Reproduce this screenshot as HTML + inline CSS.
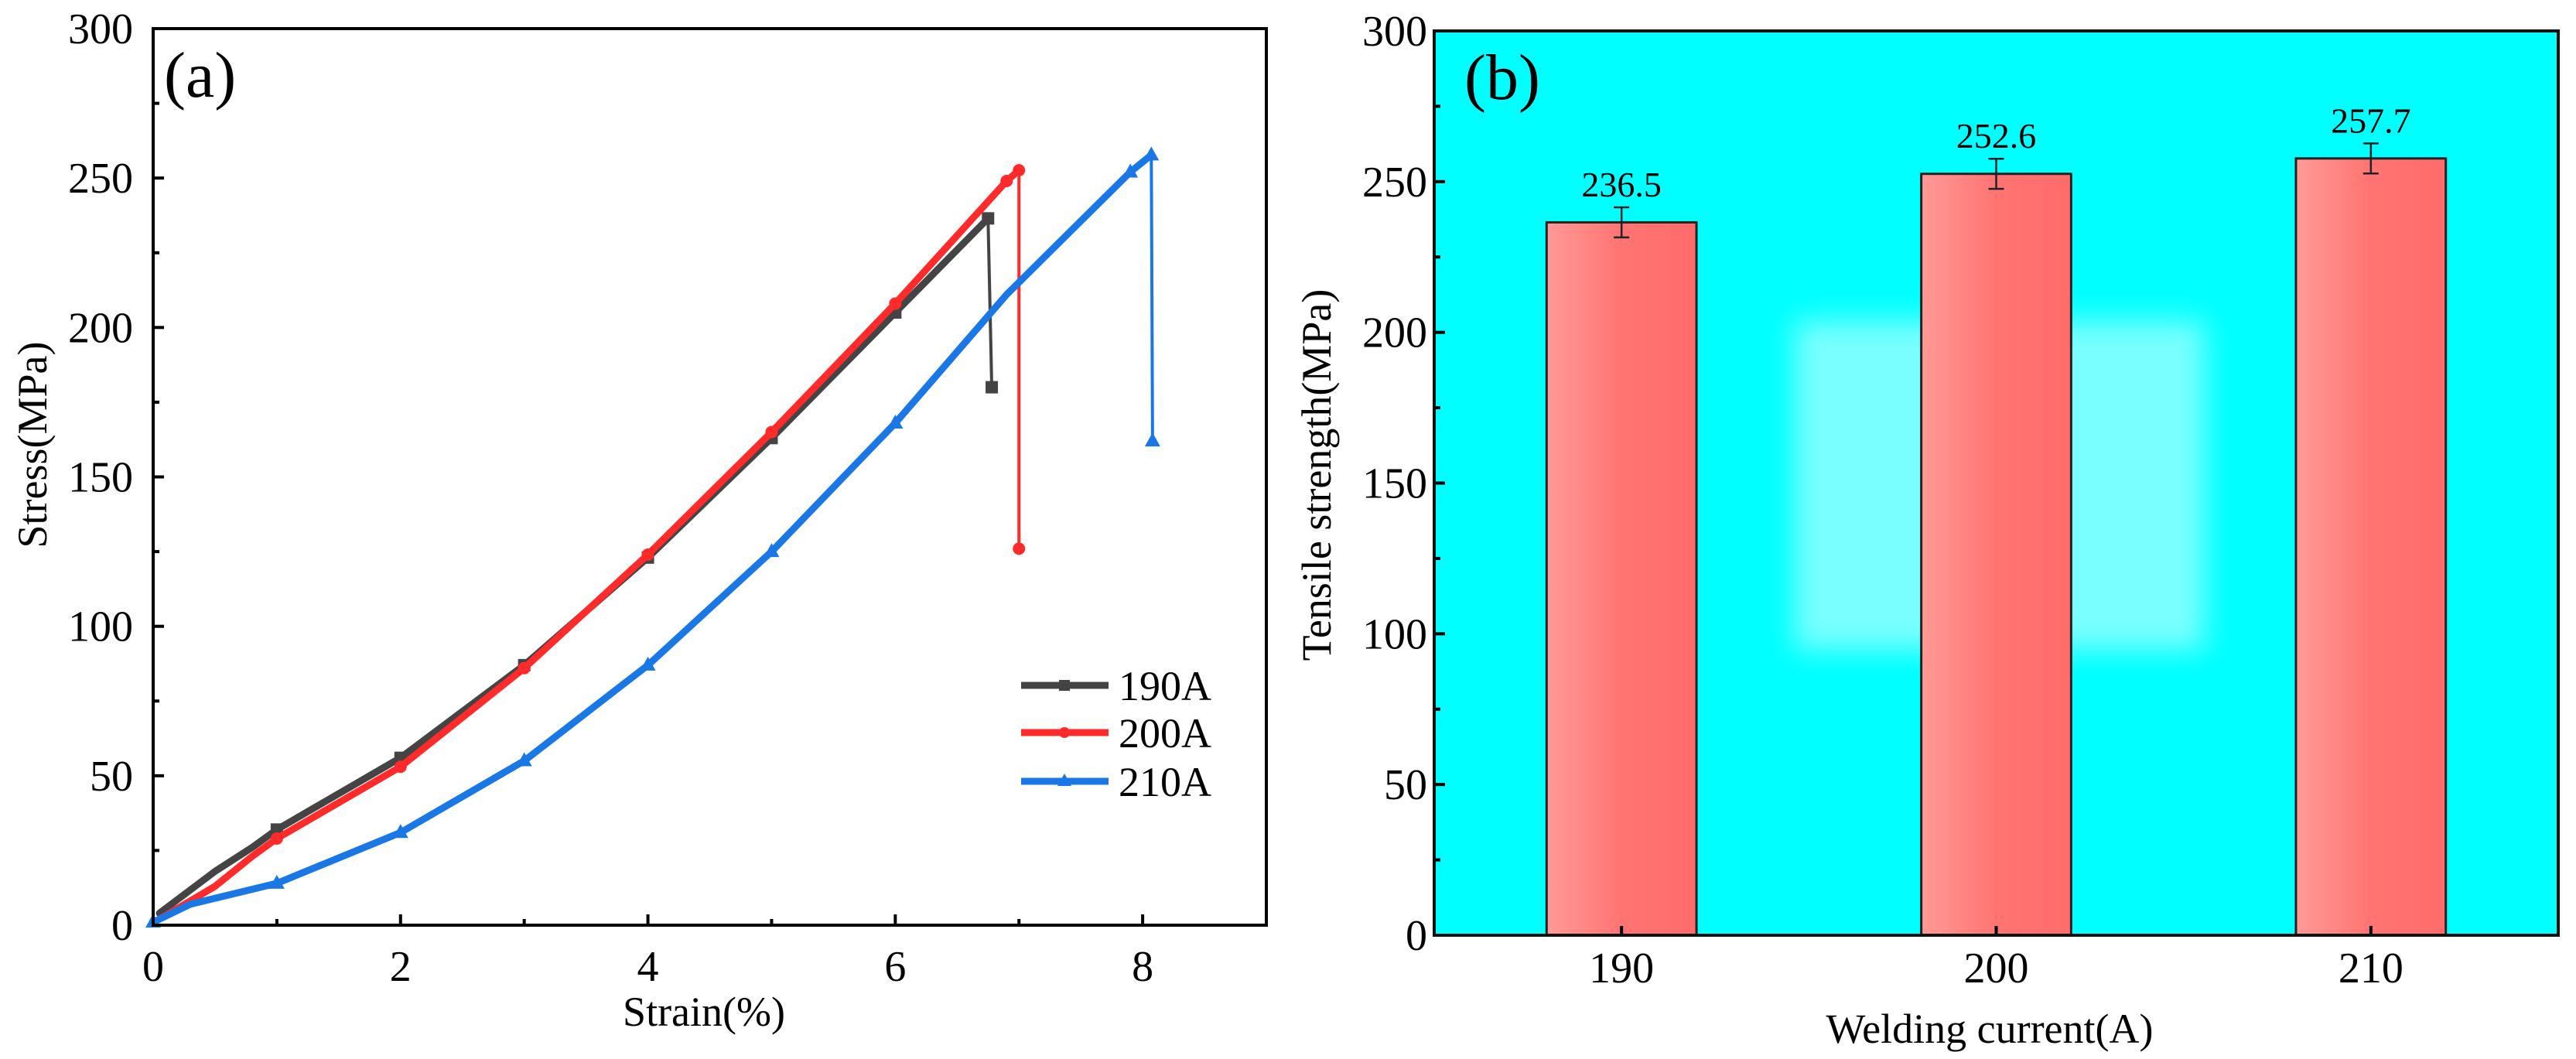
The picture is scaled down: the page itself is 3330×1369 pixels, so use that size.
<!DOCTYPE html>
<html><head><meta charset="utf-8"><style>
html,body{margin:0;padding:0;background:#fff;width:3330px;height:1369px;overflow:hidden}
svg text{font-family:"Liberation Serif",serif;fill:#000}
</style></head><body>
<svg id="fig" width="3330" height="1369" xmlns="http://www.w3.org/2000/svg">
<defs>
<linearGradient id="barg" x1="0" x2="1" y1="0" y2="0">
<stop offset="0" stop-color="#ff9a96"/><stop offset="0.5" stop-color="#ff7472"/><stop offset="1" stop-color="#ff6c6a"/>
</linearGradient>
<filter id="blur"><feGaussianBlur stdDeviation="18"/></filter>
</defs>
</svg>
<script>
// ---- Panel (a) data ----
const strain190 = [0.05,0.5,0.8,1,2,3,4,5,6,6.75,6.78];
const stress190 = [4,18,26,32,56,87,123,163,205,236.5,180];
const strain200 = [0.05,0.5,0.8,1,2,3,4,5,6,6.9,7.0,7.0];
const stress200 = [2,13,23,29,53,86,124,165,208,249,252.6,126];
const strain210 = [0,0.3,0.6,1,2,3,4,5,6,6.9,7.9,8.07,8.08];
const stress210 = [1,7,10,14,31,55,87,125,168,211,252,257.7,162];
const seriesNames = ["190A","200A","210A"];
const xTicksA = [0,2,4,6,8];
const yTicks = [0,50,100,150,200,250,300];
// ---- Panel (b) data ----
const currents = ["190","200","210"];
const strengths = [236.5,252.6,257.7];
const errs = [5,5,5];

const NS="http://www.w3.org/2000/svg";
const svg=document.getElementById('fig');
function el(tag,attrs,parent){const e=document.createElementNS(NS,tag);for(const k in attrs)e.setAttribute(k,attrs[k]);(parent||svg).appendChild(e);return e;}
function txt(s,attrs,parent){const e=el('text',attrs,parent);e.textContent=s;return e;}

// ---------- Panel A ----------
const A={x0:198,x1:1637,y0:1196,y1:37,xmin:0,xmax:9,ymin:0,ymax:300};
const ax=v=>A.x0+(v-A.xmin)/(A.xmax-A.xmin)*(A.x1-A.x0);
const ay=v=>A.y0-(v-A.ymin)/(A.ymax-A.ymin)*(A.y0-A.y1);
const gA=el('g',{});


for(let v=0;v<=9;v+=1){const L=v%2===0?14:8;el('line',{x1:ax(v),x2:ax(v),y1:A.y0,y2:A.y0-L,stroke:'#000','stroke-width':4},gA);}
for(let v=0;v<=300;v+=25){const L=v%50===0?14:8;el('line',{x1:A.x0,x2:A.x0+L,y1:ay(v),y2:ay(v),stroke:'#000','stroke-width':4},gA);}
xTicksA.forEach(v=>{const t=txt(String(v),{x:ax(v),y:1268,'font-size':56,'text-anchor':'middle'},gA);});
yTicks.forEach(v=>{const t=txt(String(v),{x:172,y:ay(v)+19,'font-size':56,'text-anchor':'end'},gA);});
const colors=['#444444','#ff2a2a','#1a78e6'];
const sets=[[strain190,stress190],[strain200,stress200],[strain210,stress210]];
sets.forEach((s,i)=>{
  const pts=s[0].map((x,j)=>ax(x)+','+ay(s[1][j])).join(' ');
  const last=s[0].length-1;
  const main=s[0].slice(0,last).map((x,j)=>ax(x)+','+ay(s[1][j])).join(' ');
  const p=el('polyline',{points:main,fill:'none',stroke:colors[i],'stroke-width':9,'stroke-linejoin':'round','stroke-linecap':'round'},gA);
  
  
  el('line',{x1:ax(s[0][last-1]),y1:ay(s[1][last-1]),x2:ax(s[0][last]),y2:ay(s[1][last]),stroke:colors[i],'stroke-width':4},gA);
  s[0].forEach((x,j)=>{
    if(x!==Math.round(x)&&j<last-1&&j!==last-2)return;
    const cx=ax(x),cy=ay(s[1][j]);let m;
    if(i===0)m=el('rect',{x:cx-8,y:cy-8,width:16,height:16,fill:colors[i]},gA);
    else if(i===1)m=el('circle',{cx:cx,cy:cy,r:8,fill:colors[i]},gA);
    else m=el('polygon',{points:`${cx},${cy-11} ${cx-10},${cy+7} ${cx+10},${cy+7}`,fill:colors[i]},gA);
    
    
  });
});
el('rect',{x:A.x0,y:A.y1,width:A.x1-A.x0,height:A.y0-A.y1,fill:'none',stroke:'#000','stroke-width':4},gA);
const la=txt('(a)',{x:212,y:125,'font-size':84},gA);
const xta=txt('Strain(%)',{x:910,y:1326,'font-size':54,'text-anchor':'middle'},gA);
const yta=txt('Stress(MPa)',{x:0,y:0,'font-size':54,'text-anchor':'middle',transform:'translate(60,575) rotate(-90)'},gA);
const legY=[886,947,1010];
seriesNames.forEach((n,i)=>{
  const g=el('g',{},gA);
  
  
  el('line',{x1:1320,x2:1433,y1:legY[i],y2:legY[i],stroke:colors[i],'stroke-width':9},g);
  const cx=1376,cy=legY[i];
  if(i===0)el('rect',{x:cx-7,y:cy-7,width:14,height:14,fill:colors[i]},g);
  else if(i===1)el('circle',{cx:cx,cy:cy,r:7,fill:colors[i]},g);
  else el('polygon',{points:`${cx},${cy-10} ${cx-9},${cy+6} ${cx+9},${cy+6}`,fill:colors[i]},g);
  txt(n,{x:1446,y:legY[i]+19,'font-size':54},g);
});

// ---------- Panel B ----------
const B={x0:1854,x1:3307,y0:1209,y1:40,ymin:0,ymax:300,cmin:-0.5,cmax:2.5};
const bx=i=>B.x0+(i-B.cmin)/(B.cmax-B.cmin)*(B.x1-B.x0);
const by=v=>B.y0-(v-B.ymin)/(B.ymax-B.ymin)*(B.y0-B.y1);
const gB=el('g',{});


el('rect',{x:B.x0,y:B.y1,width:B.x1-B.x0,height:B.y0-B.y1,fill:'#00ffff'},gB);
el('rect',{x:2320,y:415,width:530,height:425,fill:'#7affff',filter:'url(#blur)'},gB);
const bw=0.4*(bx(1)-bx(0));
strengths.forEach((v,i)=>{
  const r=el('rect',{x:bx(i)-bw/2,y:by(v),width:bw,height:B.y0-by(v),fill:'url(#barg)',stroke:'#222','stroke-width':3},gB);
  
  
  const cx=bx(i),t=by(v+errs[i]),b=by(v-errs[i]);
  const e=el('path',{d:`M${cx},${t}V${b}M${cx-10},${t}H${cx+10}M${cx-10},${b}H${cx+10}`,stroke:'#222','stroke-width':2.5,fill:'none'},gB);
  
  
  const l=txt(v.toFixed(1),{x:cx,y:t-14,'font-size':46,'text-anchor':'middle'},gB);
  
  
});
for(let v=0;v<=300;v+=25){const L=v%50===0?14:8;el('line',{x1:B.x0,x2:B.x0+L,y1:by(v),y2:by(v),stroke:'#000','stroke-width':4},gB);}
currents.forEach((c,i)=>{el('line',{x1:bx(i),x2:bx(i),y1:B.y0,y2:B.y0-12,stroke:'#000','stroke-width':4},gB);const t=txt(c,{x:bx(i),y:1270,'font-size':56,'text-anchor':'middle'},gB);});
yTicks.forEach(v=>{const t=txt(String(v),{x:1845,y:by(v)+19,'font-size':56,'text-anchor':'end'},gB);});
el('rect',{x:B.x0,y:B.y1,width:B.x1-B.x0,height:B.y0-B.y1,fill:'none',stroke:'#111','stroke-width':4},gB);
const lb=txt('(b)',{x:1893,y:128,'font-size':84},gB);
const xtb=txt('Welding current(A)',{x:2572,y:1348,'font-size':54,'text-anchor':'middle'},gB);
const ytb=txt('Tensile strength(MPa)',{x:0,y:0,'font-size':54,'text-anchor':'middle',transform:'translate(1720,614) rotate(-90)'},gB);
</script>
</body></html>
